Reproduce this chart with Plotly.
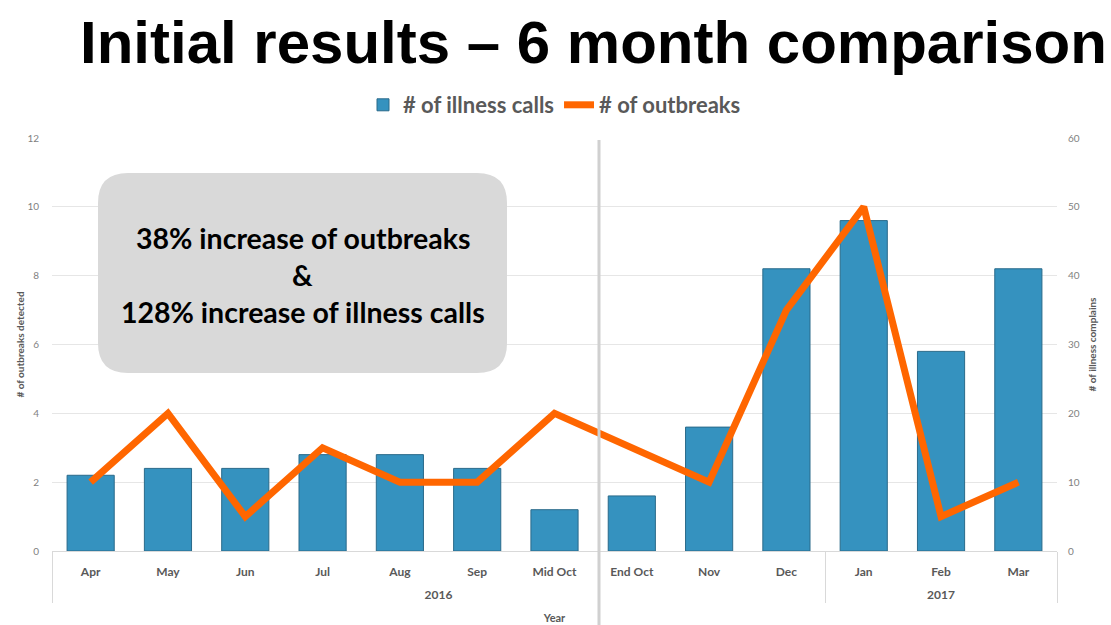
import plotly.graph_objects as go

months = ["Apr", "May", "Jun", "Jul", "Aug", "Sep", "Mid Oct", "End Oct", "Nov", "Dec", "Jan", "Feb", "Mar"]
years = ["2016"] * 10 + ["2017"] * 3
illness_calls = [11, 12, 12, 14, 14, 12, 6, 8, 18, 41, 48, 29, 41]
outbreaks = [2, 4, 1, 3, 2, 2, 4, 3, 2, 7, 10, 1, 2]

x = [years, months]

W, H = 1111, 625
L, R, T, B = 52, 54, 138, 74
pw, ph = W - L - R, H - T - B

def px(xp):
    return (xp - L) / pw

def py(yp):
    return (H - B - yp) / ph

fig = go.Figure()
fig.add_trace(go.Bar(
    x=x, y=illness_calls, name="# of illness calls",
    marker=dict(color="#3592bf", line=dict(color="#2a6a8a", width=1)),
    yaxis="y",
))
fig.add_trace(go.Scatter(
    x=x, y=outbreaks, name="# of outbreaks", mode="lines",
    line=dict(color="#ff6600", width=7),
    yaxis="y2",
))

label_font = dict(family="Lato", size=10, color="#7f7f7f")
title_font = dict(family="Lato", size=10, color="#595959", weight="bold")

fig.update_layout(
    width=W, height=H,
    margin=dict(l=L, r=R, t=T, b=B, pad=0, autoexpand=False),
    paper_bgcolor="white", plot_bgcolor="white",
    bargap=0.39, hovermode=False,
    legend=dict(
        orientation="h", x=0.5, xanchor="center", y=py(105), yanchor="middle",
        font=dict(family="Lato", size=22, color="#595959", weight="bold"),
        itemwidth=30, traceorder="normal",
    ),
    xaxis=dict(
        type="multicategory", automargin=False,
        tickfont=dict(family="Lato", size=12, color="#595959", weight="bold"),
        showline=True, linecolor="#d9d9d9", linewidth=1,
        showdividers=True, dividercolor="#d9d9d9", dividerwidth=1,
        ticks="", ticklabelstandoff=10, ticksuffix="<br>\u00a0",
        title=dict(text="Year", font=dict(family="Lato", size=11, color="#595959", weight="bold"), standoff=13),
    ),
    yaxis=dict(
        side="right", range=[0, 60], tickvals=[0, 10, 20, 30, 40, 50, 60],
        showgrid=True, gridcolor="#e6e6e6", gridwidth=1, zeroline=False, automargin=False,
        tickfont=label_font, ticks="", ticklabelstandoff=10,
        title=dict(text="# of illness complains", font=title_font, standoff=10),
    ),
    yaxis2=dict(
        overlaying="y", side="left", range=[0, 12], tickvals=[0, 2, 4, 6, 8, 10, 12],
        showgrid=False, zeroline=False, automargin=False,
        tickfont=label_font, ticks="", ticklabelstandoff=12,
        title=dict(text="# of outbreaks detected", font=title_font, standoff=0),
    ),
    showlegend=True,
)

fig.add_annotation(
    text="<b>Initial results – 6 month comparison</b>",
    x=px(593.5), y=py(42), xref="paper", yref="paper",
    xanchor="center", yanchor="middle", showarrow=False,
    font=dict(family="Liberation Sans", size=60, color="black"),
)

# rounded box
x0, x1 = px(98), px(507)
y1, y0 = py(173), py(373)
rx, ry = 30 / pw, 30 / ph
path = (f"M {x0+rx},{y1} L {x1-rx},{y1} Q {x1},{y1} {x1},{y1-ry} "
        f"L {x1},{y0+ry} Q {x1},{y0} {x1-rx},{y0} L {x0+rx},{y0} "
        f"Q {x0},{y0} {x0},{y0+ry} L {x0},{y1-ry} Q {x0},{y1} {x0+rx},{y1} Z")
fig.add_shape(type="path", path=path, xref="paper", yref="paper",
              fillcolor="#d9d9d9", line=dict(width=0), layer="above")

box_lines = ["38% increase of outbreaks", "&", "128% increase of illness calls"]
for txt, yp in zip(box_lines, [238, 275, 312]):
    fig.add_annotation(text=f"<b>{txt}</b>", x=px(302.5), y=py(yp), xref="paper", yref="paper",
                       showarrow=False, xanchor="center", yanchor="middle",
                       font=dict(family="Lato", size=28.5, color="black"))

# separator line between Mid Oct and End Oct
fig.add_shape(type="line", xref="paper", yref="paper",
              x0=px(599), x1=px(599), y0=py(625), y1=py(140),
              line=dict(color="#d0d0d0", width=3), layer="above")

fig.write_html("out.html", config={"displayModeBar": False},
               post_script="document.body.style.margin='0';document.body.style.padding='0';")
